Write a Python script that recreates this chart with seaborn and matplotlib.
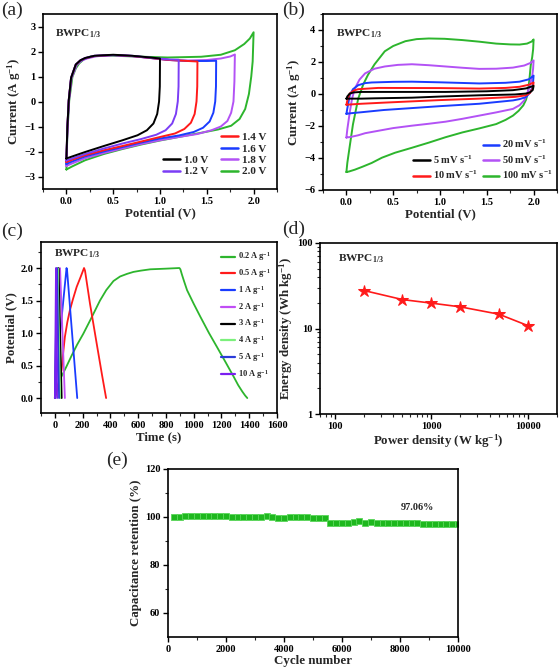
import matplotlib
matplotlib.use("Agg")
import matplotlib.pyplot as plt
import seaborn as sns
import numpy as np
from matplotlib.lines import Line2D
from matplotlib.ticker import MultipleLocator, FixedLocator, FixedFormatter, NullFormatter, LogLocator, FormatStrFormatter

sns.set_theme(style="ticks")
plt.rcParams['font.family'] = ['Liberation Serif', 'DejaVu Serif']
plt.rcParams['font.weight'] = 'bold'
plt.rcParams['mathtext.fontset'] = 'custom'
plt.rcParams['mathtext.rm'] = 'Liberation Serif'
plt.rcParams['mathtext.bf'] = 'Liberation Serif:bold'
plt.rcParams['mathtext.it'] = 'Liberation Serif:italic'
plt.rcParams['axes.linewidth'] = 1.2

# ---------------- Panel (a): CV at different potential windows ----------------
a_labels = ["1.0 V", "1.2 V", "1.4 V", "1.6 V", "1.8 V", "2.0 V"]
a_colors = ["#000000", "#7B3DF5", "#FF1A1A", "#1A3CFF", "#B352F5", "#2DB52D"]

a10_v = [0.00, 0.01, 0.025, 0.05, 0.10, 0.15, 0.20, 0.30, 0.50, 0.70, 0.90, 1.00,
         0.998, 0.99, 0.97, 0.93, 0.86, 0.76, 0.60, 0.40, 0.20, 0.06, 0.00]
a10_i = [-2.28, -1.05, 0.05, 0.95, 1.48, 1.65, 1.74, 1.83, 1.87, 1.83, 1.76, 1.72,
         0.60, 0.00, -0.50, -0.88, -1.15, -1.35, -1.55, -1.78, -2.02, -2.20, -2.28]

a12_v = [0.00, 0.01, 0.025, 0.05, 0.10, 0.15, 0.20, 0.30, 0.50, 0.70, 0.90, 1.10, 1.20,
         1.198, 1.19, 1.17, 1.13, 1.06, 0.96, 0.80, 0.60, 0.40, 0.20, 0.06, 0.00]
a12_i = [-2.36, -1.05, 0.05, 0.95, 1.48, 1.65, 1.74, 1.83, 1.86, 1.83, 1.75, 1.68, 1.67,
         0.60, 0.00, -0.50, -0.88, -1.15, -1.33, -1.50, -1.68, -1.88, -2.10, -2.28, -2.36]

a14_v = [0.00, 0.01, 0.025, 0.05, 0.10, 0.15, 0.20, 0.30, 0.50, 0.70, 0.90, 1.10, 1.30, 1.40,
         1.398, 1.39, 1.37, 1.33, 1.26, 1.16, 1.00, 0.80, 0.60, 0.40, 0.20, 0.06, 0.00]
a14_i = [-2.42, -1.08, 0.04, 0.94, 1.47, 1.64, 1.73, 1.82, 1.86, 1.82, 1.74, 1.66, 1.62, 1.60,
         0.60, 0.00, -0.50, -0.85, -1.10, -1.28, -1.42, -1.60, -1.78, -1.95, -2.15, -2.33, -2.42]

a16_v = [0.00, 0.01, 0.025, 0.05, 0.10, 0.15, 0.20, 0.30, 0.50, 0.70, 0.90, 1.10, 1.30, 1.50, 1.60,
         1.598, 1.59, 1.57, 1.53, 1.46, 1.36, 1.20, 1.00, 0.80, 0.60, 0.40, 0.20, 0.06, 0.00]
a16_i = [-2.50, -1.12, 0.03, 0.93, 1.46, 1.63, 1.72, 1.82, 1.86, 1.82, 1.74, 1.66, 1.62, 1.62, 1.63,
         0.60, 0.00, -0.45, -0.80, -1.05, -1.22, -1.36, -1.48, -1.64, -1.82, -2.00, -2.20, -2.40, -2.50]

a18_v = [0.00, 0.01, 0.028, 0.055, 0.11, 0.16, 0.22, 0.32, 0.50, 0.70, 0.90, 1.10, 1.30, 1.50, 1.65, 1.75, 1.80,
         1.795, 1.785, 1.76, 1.72, 1.65, 1.55, 1.40, 1.20, 1.00, 0.80, 0.60, 0.40, 0.20, 0.06, 0.00]
a18_i = [-2.58, -1.20, 0.03, 0.93, 1.46, 1.63, 1.72, 1.81, 1.85, 1.81, 1.74, 1.66, 1.64, 1.66, 1.72, 1.80, 1.88,
         0.80, 0.00, -0.45, -0.78, -1.00, -1.15, -1.30, -1.42, -1.55, -1.70, -1.88, -2.06, -2.27, -2.48, -2.58]

a20_v = [0.00, 0.01, 0.03, 0.064, 0.10, 0.136, 0.19, 0.26, 0.44, 0.73, 1.08, 1.44, 1.65, 1.80, 1.90, 1.96, 2.00,
         1.99, 1.975, 1.95, 1.91, 1.85, 1.76, 1.62, 1.40, 1.20, 1.00, 0.80, 0.60, 0.40, 0.20, 0.06, 0.00]
a20_i = [-2.72, -1.30, 0.03, 0.98, 1.32, 1.52, 1.70, 1.80, 1.84, 1.80, 1.76, 1.79, 1.87, 2.05, 2.30, 2.52, 2.77,
         1.60, 1.00, 0.30, -0.30, -0.70, -0.97, -1.12, -1.28, -1.42, -1.56, -1.72, -1.90, -2.10, -2.35, -2.60, -2.72]

# ---------------- Panel (b): CV at different scan rates ----------------
b_labels = ["5 mV s$^{\\mathbf{-1}}$", "10 mV s$^{\\mathbf{-1}}$", "20 mV s$^{\\mathbf{-1}}$",
            "50 mV s$^{\\mathbf{-1}}$", "100 mV s$^{\\mathbf{-1}}$"]
b_colors = ["#000000", "#FF1A1A", "#1A3CFF", "#B352F5", "#2DB52D"]

b5_v = [0.00, 0.01, 0.036, 0.08, 0.16, 1.06, 1.50, 1.78, 1.92, 2.00,
        1.995, 1.99, 1.96, 1.92, 1.80, 1.42, 1.00, 0.70, 0.30, 0.16, 0.00]
b5_i = [-0.29, -0.15, 0.03, 0.10, 0.13, 0.13, 0.17, 0.24, 0.35, 0.51,
        0.35, 0.24, 0.10, 0.03, -0.03, -0.08, -0.16, -0.23, -0.27, -0.29, -0.29]

b10_v = [0.00, 0.01, 0.036, 0.08, 0.126, 0.34, 1.00, 1.42, 1.70, 1.85, 1.95, 2.00,
         1.995, 1.99, 1.96, 1.92, 1.80, 1.42, 1.00, 0.70, 0.40, 0.16, 0.00]
b10_i = [-0.67, -0.40, 0.03, 0.22, 0.30, 0.38, 0.37, 0.34, 0.38, 0.45, 0.58, 0.72,
         0.50, 0.34, 0.06, -0.08, -0.18, -0.29, -0.38, -0.46, -0.54, -0.61, -0.67]

b20_v = [0.00, 0.01, 0.036, 0.07, 0.126, 0.20, 0.27, 0.50, 0.70, 1.00, 1.42, 1.70, 1.85, 1.95, 2.00,
         1.995, 1.99, 1.96, 1.92, 1.85, 1.78, 1.42, 1.00, 0.70, 0.40, 0.16, 0.05, 0.00]
b20_i = [-1.24, -0.90, -0.08, 0.30, 0.55, 0.68, 0.72, 0.76, 0.77, 0.73, 0.66, 0.70, 0.77, 0.92, 1.15,
         0.80, 0.45, 0.08, -0.19, -0.32, -0.40, -0.61, -0.76, -0.88, -1.00, -1.14, -1.20, -1.24]

b50_v = [0.00, 0.01, 0.036, 0.06, 0.09, 0.14, 0.20, 0.30, 0.41, 0.55, 0.70, 0.88, 1.06, 1.24, 1.42,
         1.60, 1.78, 1.90, 1.97, 2.00,
         1.995, 1.985, 1.96, 1.93, 1.90, 1.85, 1.78, 1.60, 1.42, 1.24, 1.06, 0.88, 0.70, 0.50, 0.34,
         0.20, 0.126, 0.05, 0.00]
b50_i = [-2.72, -2.20, -1.14, -0.30, 0.34, 0.90, 1.29, 1.58, 1.72, 1.82, 1.86, 1.80, 1.72, 1.64, 1.57,
         1.58, 1.65, 1.78, 1.95, 2.10,
         1.60, 1.10, 0.55, 0.00, -0.40, -0.70, -0.93, -1.15, -1.35, -1.55, -1.73, -1.86, -1.98, -2.13, -2.30,
         -2.45, -2.58, -2.68, -2.72]

b100_v = [0.00, 0.01, 0.036, 0.07, 0.126, 0.18, 0.23, 0.30, 0.41, 0.50, 0.63, 0.75, 0.88, 1.05, 1.24,
          1.42, 1.60, 1.75, 1.85, 1.93, 1.98, 2.00,
          1.995, 1.985, 1.97, 1.955, 1.94, 1.92, 1.89, 1.84, 1.78, 1.70, 1.60, 1.42, 1.24, 1.06, 0.88,
          0.70, 0.52, 0.38, 0.27, 0.17, 0.09, 0.03, 0.00]
b100_i = [-4.88, -4.30, -3.25, -1.90, -0.29, 0.60, 1.19, 1.85, 2.67, 3.00, 3.30, 3.43, 3.47, 3.45, 3.37,
          3.27, 3.15, 3.10, 3.09, 3.15, 3.28, 3.41,
          2.80, 2.30, 1.82, 0.90, 0.13, -0.35, -0.71, -1.05, -1.35, -1.62, -1.88, -2.15, -2.40, -2.70, -3.04,
          -3.36, -3.67, -3.98, -4.31, -4.55, -4.73, -4.84, -4.88]

# ---------------- Panel (c): GCD curves ----------------
c_labels = ["0.2 A g$^{\\mathbf{-1}}$", "0.5 A g$^{\\mathbf{-1}}$", "1 A g$^{\\mathbf{-1}}$",
            "2 A g$^{\\mathbf{-1}}$", "3 A g$^{\\mathbf{-1}}$", "4 A g$^{\\mathbf{-1}}$",
            "5 A g$^{\\mathbf{-1}}$", "10 A g$^{\\mathbf{-1}}$"]
c_colors = ["#2DB52D", "#FF1A1A", "#1A3CFF", "#C04DF5", "#000000", "#7CF07C", "#2A3BD9", "#7A1FF0"]

c02_t = [0, 20, 40, 80, 120, 160, 205, 260, 325, 370, 422, 470, 520, 566, 620, 687, 800, 897,
         904, 915, 930, 952, 1000, 1048, 1110, 1169, 1230, 1290, 1320, 1350, 1370, 1386]
c02_v = [0.0, 0.15, 0.30, 0.47, 0.65, 0.82, 0.99, 1.22, 1.50, 1.66, 1.80, 1.87, 1.91, 1.94, 1.96, 1.98, 1.99, 2.00,
         1.98, 1.90, 1.80, 1.66, 1.45, 1.25, 1.00, 0.78, 0.55, 0.32, 0.20, 0.10, 0.04, 0.0]

c05_t = [0, 20, 48, 60, 72, 90, 108, 130, 157, 185, 210, 217, 253, 301, 340, 369]
c05_v = [0.0, 0.18, 0.43, 0.70, 0.94, 1.17, 1.35, 1.52, 1.71, 1.86, 2.00, 1.96, 1.45, 0.84, 0.35, 0.0]

c1_t = [0, 40, 84, 88, 161]
c1_v = [0.0, 1.05, 2.00, 1.96, 0.0]

c2_t = [0, 36, 38, 72]
c2_v = [0.0, 2.00, 1.96, 0.0]

c3_t = [0, 25, 27, 49]
c3_v = [0.0, 2.00, 1.96, 0.0]

c4_t = [0, 19, 20, 38]
c4_v = [0.0, 2.00, 1.96, 0.0]

c5_t = [0, 15, 16, 30]
c5_v = [0.0, 2.00, 1.96, 0.0]

c10_t = [0, 8, 9, 16]
c10_v = [0.0, 2.00, 1.96, 0.0]

# ---------------- Panel (d): Ragone plot ----------------
d_power = [200, 500, 1000, 2000, 5000, 10000]
d_energy = [27.8, 21.8, 19.8, 17.9, 14.7, 10.8]

# ---------------- Panel (e): cycling stability ----------------
e_cycles = [200, 400, 600, 800, 1000, 1200, 1400, 1600, 1800, 2000,
            2200, 2400, 2600, 2800, 3000, 3200, 3400, 3600, 3800, 4000,
            4200, 4400, 4600, 4800, 5000, 5200, 5400, 5600, 5800, 6000,
            6200, 6400, 6600, 6800, 7000, 7200, 7400, 7600, 7800, 8000,
            8200, 8400, 8600, 8800, 9000, 9200, 9400, 9600, 9800, 10000]
e_retention = [100.0, 100.0, 100.3, 100.3, 100.3, 100.3, 100.3, 100.3, 100.3, 100.3,
               100.1, 100.1, 100.2, 100.0, 100.0, 100.0, 100.3, 100.0, 99.4, 99.6,
               100.0, 100.0, 100.0, 100.0, 99.7, 99.7, 99.7, 97.3, 97.3, 97.3,
               97.3, 98.1, 98.2, 97.3, 98.1, 97.3, 97.3, 97.3, 97.3, 97.3,
               97.3, 97.3, 97.3, 97.06, 97.06, 97.06, 97.06, 97.06, 97.06, 97.06]
e_note = "97.06%"

sample_label = r"BWPC$_{\mathregular{1/3}}$"

# ---------------- Figure layout ----------------
W, H = 560, 670
fig = plt.figure(figsize=(W / 100, H / 100), dpi=100)


def add_ax(left, right, top, bottom):
    return fig.add_axes([left / W, 1 - bottom / H, (right - left) / W, (bottom - top) / H])


ax_a = add_ax(43, 277, 14, 189)
ax_b = add_ax(323, 557, 14, 190)
ax_c = add_ax(41, 277, 242, 413)
ax_d = add_ax(320, 557, 243, 414)
ax_e = add_ax(168, 458, 469, 637)

TICK_FS = 7.5
LAB_FS = 9.3
LEG_FS = 8.0
BW_FS = 8.2


def style(ax):
    for s in ax.spines.values():
        s.set_visible(True)
        s.set_linewidth(1.2)
        s.set_color("black")
    ax.tick_params(which="major", direction="out", length=3.5, width=1.0, labelsize=TICK_FS,
                   pad=2, colors="black")
    ax.tick_params(which="minor", direction="out", length=2, width=0.8)
    for lab in ax.get_xticklabels() + ax.get_yticklabels():
        lab.set_fontweight("bold")
    ax.grid(False)
    ax.set_facecolor("white")


def draw(ax, x, y, color, lw=1.4):
    sns.lineplot(x=x, y=y, sort=False, estimator=None, color=color, lw=lw, ax=ax)


# Panel a
a_v = [a10_v, a12_v, a14_v, a16_v, a18_v, a20_v]
a_i = [a10_i, a12_i, a14_i, a16_i, a18_i, a20_i]
for v, i, c in zip(a_v[::-1], a_i[::-1], a_colors[::-1]):
    draw(ax_a, v, i, c)
ax_a.set_xlim(-0.25, 2.25)
ax_a.set_ylim(-3.5, 3.5)
ax_a.xaxis.set_major_locator(MultipleLocator(0.5))
ax_a.xaxis.set_minor_locator(MultipleLocator(0.25))
ax_a.yaxis.set_major_locator(MultipleLocator(1))
ax_a.xaxis.set_major_formatter(FormatStrFormatter("%.1f"))
ax_a.set_xlabel("Potential (V)", fontsize=LAB_FS, fontweight="bold", labelpad=1)
ax_a.set_ylabel("Current (A g$^{\\mathbf{-1}}$)", fontsize=LAB_FS, fontweight="bold", labelpad=1)
ax_a.text(0.05, 0.89, sample_label, transform=ax_a.transAxes, fontsize=BW_FS, fontweight="bold", va="center")
style(ax_a)

hA = [Line2D([], [], color=c, lw=1.8) for c in a_colors]
legA1 = ax_a.legend(hA[2:], a_labels[2:], loc="lower left", bbox_to_anchor=(0.735, 0.04),
                    frameon=False, handlelength=1.6, handletextpad=0.3,
                    labelspacing=0.15, borderpad=0, prop={"weight": "bold", "size": LEG_FS})
ax_a.add_artist(legA1)
ax_a.legend(hA[:2], a_labels[:2], loc="lower left", bbox_to_anchor=(0.487, 0.04),
            frameon=False, handlelength=1.6, handletextpad=0.3,
            labelspacing=0.15, borderpad=0, prop={"weight": "bold", "size": LEG_FS})

# Panel b
b_v = [b5_v, b10_v, b20_v, b50_v, b100_v]
b_i = [b5_i, b10_i, b20_i, b50_i, b100_i]
for v, i, c in zip(b_v[::-1], b_i[::-1], b_colors[::-1]):
    draw(ax_b, v, i, c)
ax_b.set_xlim(-0.25, 2.25)
ax_b.set_ylim(-6, 5)
ax_b.xaxis.set_major_locator(MultipleLocator(0.5))
ax_b.xaxis.set_minor_locator(MultipleLocator(0.25))
ax_b.yaxis.set_major_locator(MultipleLocator(2))
ax_b.yaxis.set_minor_locator(MultipleLocator(1))
ax_b.xaxis.set_major_formatter(FormatStrFormatter("%.1f"))
ax_b.set_xlabel("Potential (V)", fontsize=LAB_FS, fontweight="bold", labelpad=1)
ax_b.set_ylabel("Current (A g$^{\\mathbf{-1}}$)", fontsize=LAB_FS, fontweight="bold", labelpad=1)
ax_b.text(0.056, 0.89, sample_label, transform=ax_b.transAxes, fontsize=BW_FS, fontweight="bold", va="center")
style(ax_b)

hB = [Line2D([], [], color=c, lw=1.8) for c in b_colors]
legB1 = ax_b.legend(hB[2:], b_labels[2:], loc="lower left", bbox_to_anchor=(0.66, 0.02),
                    frameon=False, handlelength=1.6, handletextpad=0.3,
                    labelspacing=0.3, borderpad=0, prop={"weight": "bold", "size": 7.5})
ax_b.add_artist(legB1)
ax_b.legend(hB[:2], b_labels[:2], loc="lower left", bbox_to_anchor=(0.363, 0.02),
            frameon=False, handlelength=1.6, handletextpad=0.3,
            labelspacing=0.3, borderpad=0, prop={"weight": "bold", "size": 7.5})

# Panel c
c_t = [c02_t, c05_t, c1_t, c2_t, c3_t, c4_t, c5_t, c10_t]
c_v = [c02_v, c05_v, c1_v, c2_v, c3_v, c4_v, c5_v, c10_v]
for t, v, c in zip(c_t, c_v, c_colors):
    draw(ax_c, t, v, c, lw=1.3)
ax_c.set_xlim(-100, 1600)
ax_c.set_ylim(-0.23, 2.4)
ax_c.xaxis.set_major_locator(MultipleLocator(200))
ax_c.xaxis.set_minor_locator(MultipleLocator(100))
ax_c.yaxis.set_major_locator(MultipleLocator(0.5))
ax_c.yaxis.set_minor_locator(MultipleLocator(0.25))
ax_c.yaxis.set_major_formatter(FormatStrFormatter("%.1f"))
ax_c.set_xlabel("Time (s)", fontsize=LAB_FS, fontweight="bold", labelpad=1)
ax_c.set_ylabel("Potential (V)", fontsize=LAB_FS, fontweight="bold", labelpad=2)
ax_c.text(0.055, 0.93, sample_label, transform=ax_c.transAxes, fontsize=BW_FS, fontweight="bold", va="center")
style(ax_c)
hC = [Line2D([], [], color=c, lw=1.6) for c in c_colors]
ax_c.legend(hC, c_labels, loc="upper left", bbox_to_anchor=(0.745, 0.975),
            frameon=False, handlelength=1.7, handletextpad=0.3,
            labelspacing=0.45, borderpad=0, prop={"weight": "bold", "size": 6.0})

# Panel d
sns.lineplot(x=d_power, y=d_energy, color="#FF1A1A", lw=1.2, marker="*", markersize=9,
             markeredgecolor="#FF1A1A", ax=ax_d)
ax_d.set_xscale("log")
ax_d.set_yscale("log")
ax_d.set_xlim(70, 20000)
ax_d.set_ylim(1, 100)
ax_d.xaxis.set_major_locator(FixedLocator([100, 1000, 10000]))
ax_d.xaxis.set_major_formatter(FixedFormatter(["100", "1000", "10000"]))
ax_d.xaxis.set_minor_locator(LogLocator(base=10, subs=np.arange(2, 10)))
ax_d.xaxis.set_minor_formatter(NullFormatter())
ax_d.yaxis.set_major_locator(FixedLocator([1, 10, 100]))
ax_d.yaxis.set_major_formatter(FixedFormatter(["1", "10", "100"]))
ax_d.yaxis.set_minor_locator(LogLocator(base=10, subs=np.arange(2, 10)))
ax_d.yaxis.set_minor_formatter(NullFormatter())
ax_d.set_xlabel("Power density (W kg$^{\\mathbf{-1}}$)", fontsize=LAB_FS, fontweight="bold", labelpad=1)
ax_d.set_ylabel("Energy density (Wh kg$^{\\mathbf{-1}}$)", fontsize=LAB_FS, fontweight="bold", labelpad=1)
ax_d.text(0.076, 0.906, sample_label, transform=ax_d.transAxes, fontsize=BW_FS, fontweight="bold", va="center")
style(ax_d)

# Panel e
sns.scatterplot(x=e_cycles, y=e_retention, marker="s", s=20, color="#1EB81E",
                edgecolor="#5AD65A", linewidth=0.6, ax=ax_e)
ax_e.set_xlim(0, 10000)
ax_e.set_ylim(50, 120)
ax_e.xaxis.set_major_locator(MultipleLocator(2000))
ax_e.xaxis.set_minor_locator(MultipleLocator(1000))
ax_e.yaxis.set_major_locator(FixedLocator([60, 80, 100, 120]))
ax_e.yaxis.set_minor_locator(FixedLocator([70, 90, 110]))
ax_e.set_xlabel("Cycle number", fontsize=LAB_FS, fontweight="bold", labelpad=1)
ax_e.set_ylabel("Capacitance retention (%)", fontsize=LAB_FS, fontweight="bold", labelpad=2)
ax_e.text(8600, 104, e_note, fontsize=7.4, fontweight="bold", ha="center", va="center")
style(ax_e)

# Panel letters
for lab, x, y in [("(a)", 1, 2), ("(b)", 282, 2), ("(c)", 1, 223), ("(d)", 282, 221), ("(e)", 106, 452)]:
    fig.text(x / W, 1 - y / H, lab, fontsize=14, fontweight="normal", ha="left", va="top")

fig.savefig("out.png", dpi=100, facecolor="white")
